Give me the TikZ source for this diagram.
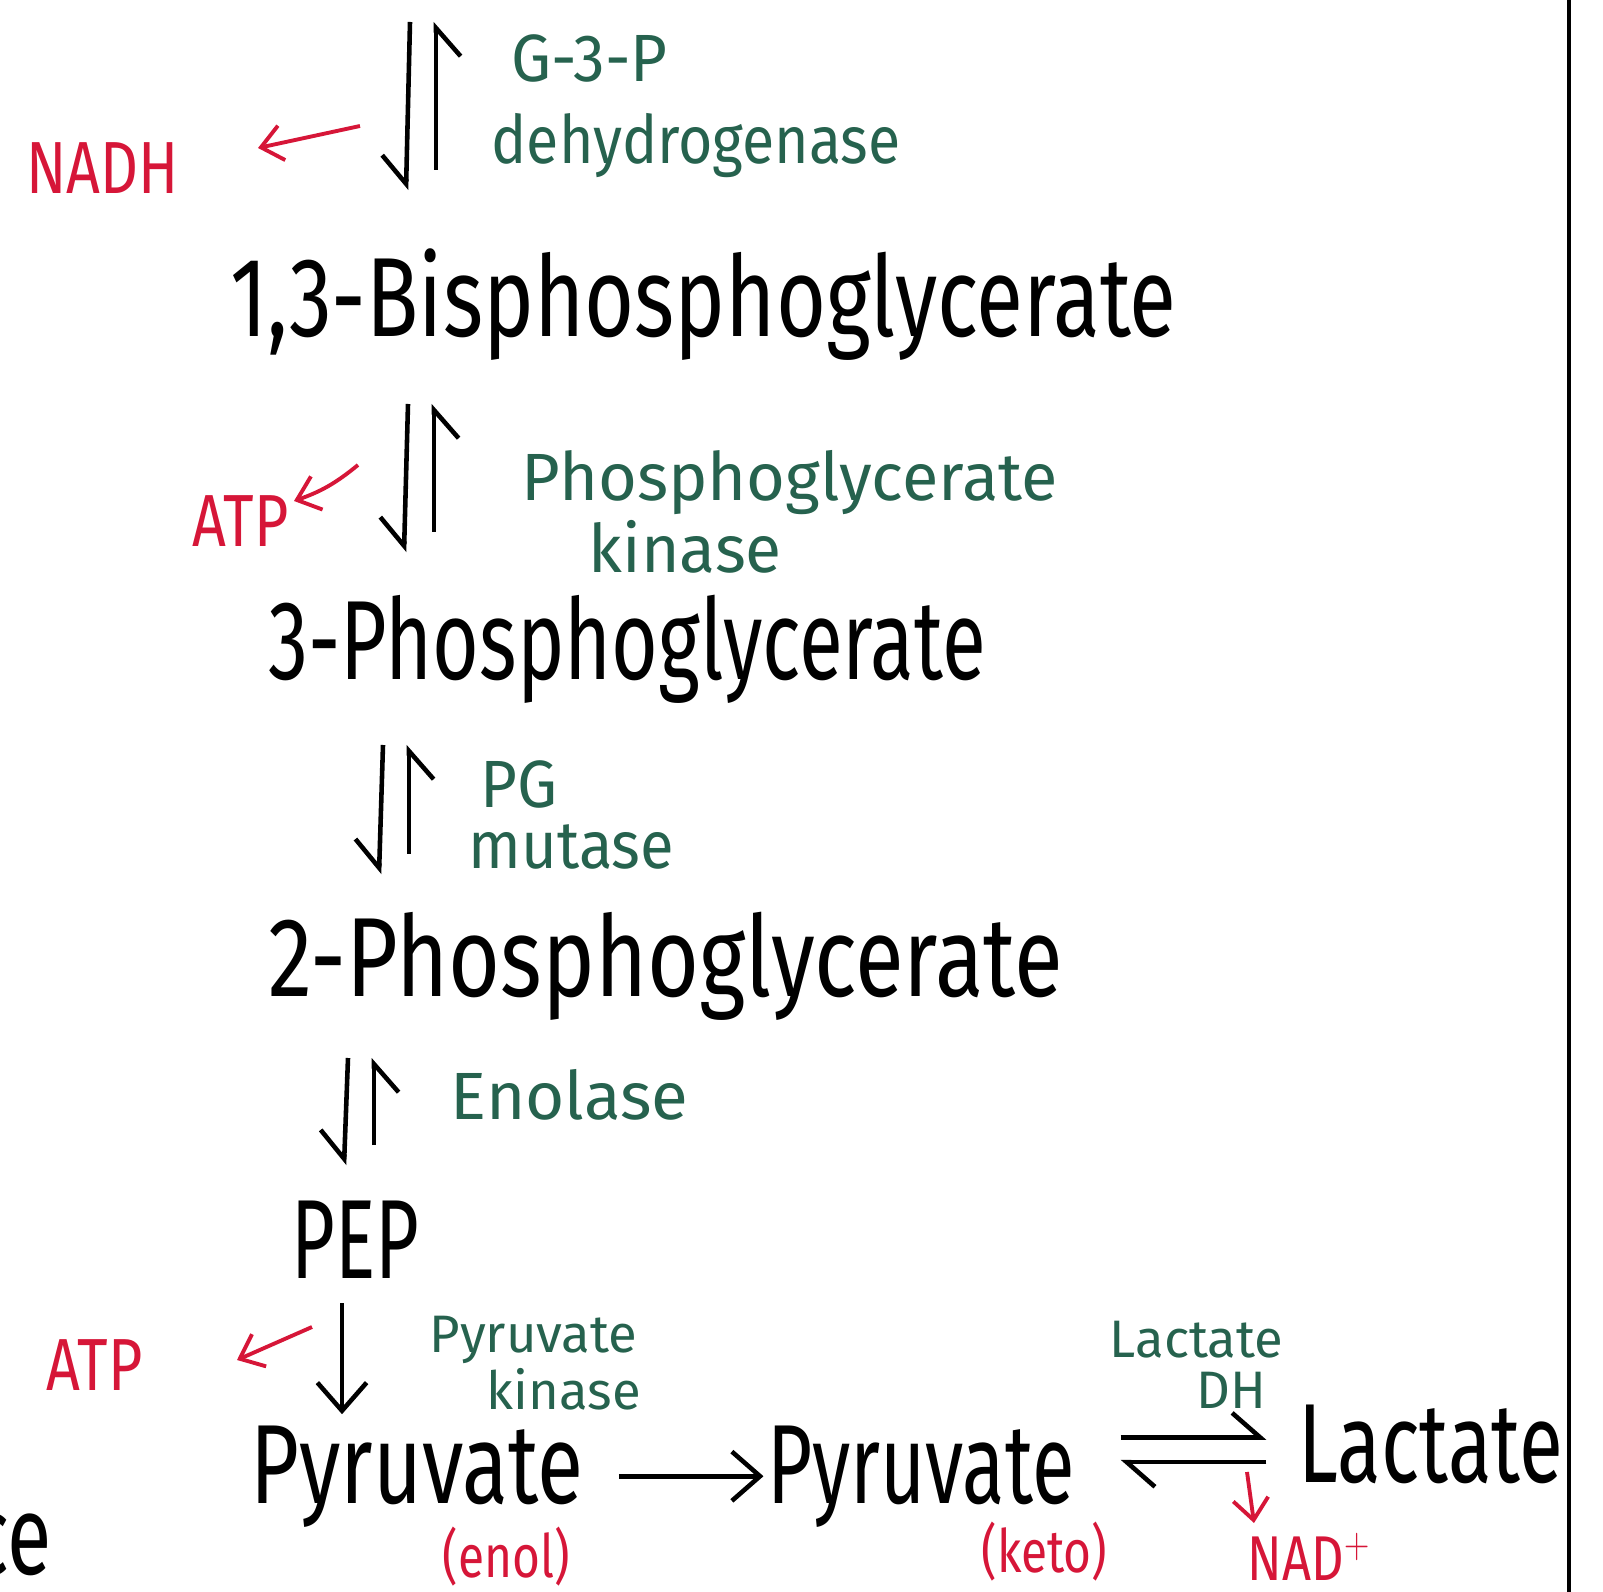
\documentclass[tikz,border=0pt]{standalone}
\usepackage{fontspec}
\setmainfont{Fira Sans}
\usetikzlibrary{arrows.meta,calc}
\definecolor{redink}{RGB}{214,22,56}
\definecolor{greenink}{RGB}{38,98,78}

\tikzset{
  met/.style={font=\fontsize{32}{38}\selectfont, anchor=base west, inner sep=0pt, xscale=0.72},
  enz/.style={font=\fontsize{19}{22}\selectfont, text=greenink, anchor=base west, inner sep=0pt, xscale=0.95},
  enzsmall/.style={enz, font=\fontsize{15}{18}\selectfont, xscale=1.05},
  byp/.style={font=\fontsize{21}{24}\selectfont, text=redink, anchor=base west, inner sep=0pt, xscale=0.8},
  bypsmall/.style={byp, font=\fontsize{17}{20}\selectfont},
  dnharp/.style={line width=1.3pt, -{Straight Barb[right,length=8pt,width=14pt]}},
  upharp/.style={line width=1.3pt, -{Straight Barb[right,length=8pt,width=14pt]}},
  fwd/.style={line width=1.3pt, -{Straight Barb[length=8pt,width=14pt]}},
  eqharp/.style={line width=1.3pt, -{Straight Barb[left,length=8pt,width=14pt]}},
  redarr/.style={redink, line width=1.1pt, -{Straight Barb[length=6pt,width=10pt]}}
}

\begin{document}
\begin{tikzpicture}[x=0.01cm, y=-0.01cm]
\useasboundingbox (0,0) rectangle (1603,1592);
\clip (0,0) rectangle (1603,1592);

% margin line
\draw[line width=1.2pt] (1569,0) -- (1569,1592);

% metabolites
\node[met, xscale=1.06] (bpg) at (230,337) {1,3-Bisphosphoglycerate};
\node[met, xscale=0.99] (pgcthree) at (268,680) {3-Phosphoglycerate};
\node[met, xscale=1.1] (pgctwo) at (268,997) {2-Phosphoglycerate};
\node[met, xscale=0.93] (pep) at (291,1278) {PEP};
\node[met, xscale=1.04] (pyrenol) at (250,1503) {Pyruvate};
\node[met, xscale=0.96] (pyrketo) at (767,1503) {Pyruvate};
\node[met, xscale=0.99] (lac) at (1298,1482) {Lactate};
\node[met, anchor=base east] (cutoff) at (52,1574) {ce};

% reversible steps
\foreach \n/\x/\t/\b in {1/422/22/190, 2/420/404/552, 3/395/745/874, 4/360/1058/1165} {
    \coordinate (top\n) at (\x,\t);
    \coordinate (bot\n) at (\x,\b);
    \draw[dnharp] ($(top\n)+(-12,0)$) -- ($(bot\n)+(-16,0)$);
    \draw[upharp] ($(bot\n)+(14,-20)$) -- ($(top\n)+(14,0)$);
}

% enzymes
\node[enz] (gtp) at (511,82) {G-3-P};
\node[enz, xscale=0.93] (gtpdh) at (491,164) {dehydrogenase};
\node[enz, xscale=1.05] (pgk) at (521,501) {Phosphoglycerate};
\node[enz, xscale=1.04] (pgkb) at (588,573) {kinase};
\node[enz] (pgm) at (480,808) {PG};
\node[enz, xscale=0.97] (pgmb) at (468,869) {mutase};
\node[enz, xscale=1.06] (eno) at (450,1119) {Enolase};
\node[enzsmall] (pk) at (429,1352) {Pyruvate};
\node[enzsmall] (pkb) at (486,1409) {kinase};
\node[enzsmall] (ldh) at (1109,1357) {Lactate};
\node[enzsmall] (ldhb) at (1196,1408) {DH};

% by-products
\node[byp] (nadh) at (26,194) {NADH};
\node[byp] (atpone) at (192,547) {ATP};
\node[byp] (atptwo) at (46,1390) {ATP};
\node[bypsmall, font=\fontsize{18}{20}\selectfont] (nad) at (1247,1580) {NAD$^{+}$};
\node[bypsmall] (enol) at (442,1577) {(enol)};
\node[bypsmall] (keto) at (981,1572) {(keto)};

% irreversible steps
\coordinate (pkx) at (342,0);
\draw[fwd, shorten <=7pt, shorten >=3pt] (pep.south -| pkx) -- (pyrenol.north -| pkx);
\draw[fwd, shorten <=10pt, shorten >=1pt] (pyrenol.east) -- (pyrketo.west);

% pyruvate <=> lactate
\draw[eqharp, shorten <=13pt, shorten >=9pt] ([yshift=11pt]pyrketo.east) -- ([yshift=11pt]pyrketo.east -| lac.west);
\draw[eqharp, shorten <=9pt, shorten >=13pt] ([yshift=4pt]pyrketo.east -| lac.west) -- ([yshift=4pt]pyrketo.east);

% red side arrows
\coordinate (nadhs) at (360,126);
\coordinate (nadhe) at (258,148);
\draw[redarr] (nadhs) -- (nadhe);
\coordinate (atpones) at (358,465);
\coordinate (atponee) at (294,501);
\draw[redarr] (atpones) to[bend left=10] (atponee);
\coordinate (atptwos) at (312,1327);
\coordinate (atptwoe) at (237,1360);
\draw[redarr] (atptwos) -- (atptwoe);
\coordinate (nads) at (1247,1472);
\coordinate (nade) at (1254,1523);
\draw[redarr] (nads) -- (nade);

\end{tikzpicture}
\end{document}
